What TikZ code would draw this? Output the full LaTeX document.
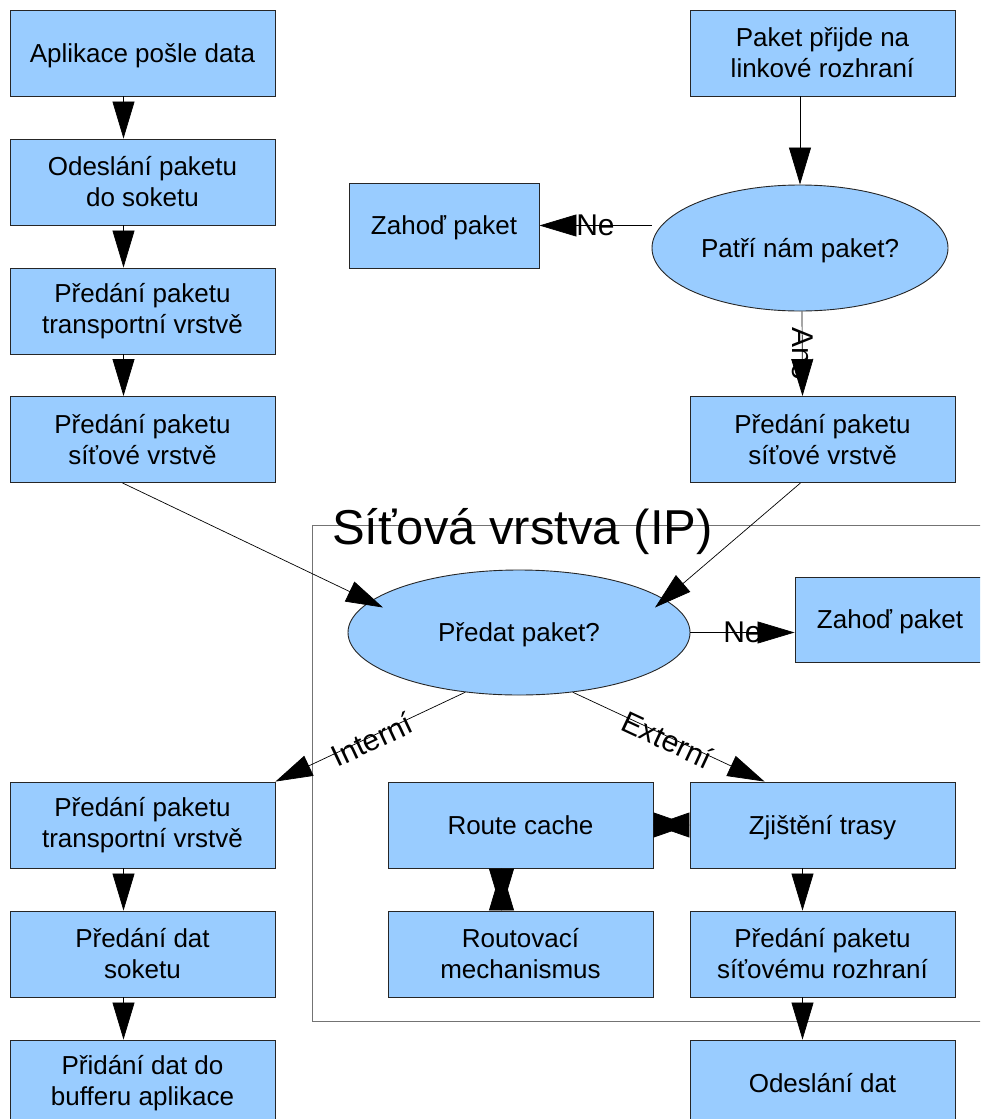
\documentclass[tikz,border=0pt]{standalone}
\usepackage{fontspec}
\setmainfont{Liberation Sans}
\usetikzlibrary{shapes.geometric,arrows.meta,calc,backgrounds}
\definecolor{boxblue}{HTML}{99CCFF}
\begin{document}
\begin{tikzpicture}[x=1pt,y=-1pt,
  box/.style={rectangle,fill=boxblue,draw=black!85,line width=0.9pt,minimum width=265pt,minimum height=86pt,align=center,inner sep=0pt,font=\fontsize{26}{31}\selectfont},
  one/.style={text height=23.5pt,text depth=5.5pt},
  dropbox/.style={box,one,minimum width=190pt,minimum height=85pt},
  oval/.style={ellipse,one,fill=boxblue,draw=black!85,line width=0.9pt,inner sep=0pt,align=center,font=\fontsize{26}{31}\selectfont},
  conn/.style={draw=black,line width=0.7pt,-{Triangle[width=22pt,length=37pt]}},
  biconn/.style={draw=black,line width=0.7pt,{Triangle[width=25pt,length=#1]}-{Triangle[width=25pt,length=#1]}},
  lbl/.style={font=\fontsize{30}{34}\selectfont,inner sep=0pt}]
\useasboundingbox (0,0) rectangle (980,1119);
\clip (0,0) rectangle (980,1119);

% frame of the network layer
\draw[black!55,line width=1pt] (312,525) rectangle (1010,1021);
\node[anchor=base west,inner sep=0pt,font=\fontsize{49}{52}\selectfont] (title) at (332,544) {Síťová vrstva (IP)};

% left column
\node[box,one] (l1) at (142.5,53) {Aplikace pošle data};
\node[box] (l2) at (142.5,182) {Odeslání paketu\\ do soketu};
\node[box] (l3) at (142.5,311) {Předání paketu\\transportní vrstvě};
\node[box] (l4) at (142.5,439.5) {Předání paketu\\síťové vrstvě};
\node[box] (l5) at (142.5,825) {Předání paketu\\transportní vrstvě};
\node[box] (l6) at (142.5,954) {Předání dat\\soketu};
\node[box] (l7) at (142.5,1083) {Přidání dat do\\bufferu aplikace};

% right column
\node[box] (pp) at (822.5,53) {Paket přijde na\\linkové rozhraní};
\node[oval,minimum width=296pt,minimum height=126pt] (e1) at (800,248) {Patří nám paket?};
\node[dropbox] (z1) at (444,225.5) {Zahoď paket};
\node[box] (pv2) at (822.5,439.5) {Předání paketu\\síťové vrstvě};
\node[oval,minimum width=342pt,minimum height=125pt] (e2) at (519,632.5) {Předat paket?};
\node[dropbox] (z2) at (890,619.5) {Zahoď paket};
\node[box,one] (rc) at (520.5,825) {Route cache};
\node[box,one] (zt) at (822.5,825) {Zjištění trasy};
\node[box] (rm) at (520.5,954) {Routovací\\mechanismus};
\node[box] (ps) at (822.5,954) {Předání paketu\\síťovému rozhraní};
\node[box,one] (od) at (822.5,1083) {Odeslání dat};

% connectors
\begin{scope}[on background layer]
\draw[conn] (e1.west |- z1.east) -- (z1.east) node[midway,lbl] {Ne};
\end{scope}
\draw[conn] ($(l1.south)+(-19,0)$) -- ($(l2.north)+(-19,0)$);
\draw[conn] ($(l2.south)+(-19,0)$) -- ($(l3.north)+(-19,0)$);
\draw[conn] ($(l3.south)+(-19,0)$) -- ($(l4.north)+(-19,0)$);
\draw[conn] ($(l5.south)+(-19,0)$) -- ($(l6.north)+(-19,0)$);
\draw[conn] ($(l6.south)+(-19,0)$) -- ($(l7.north)+(-19,0)$);
\draw[conn] (e1.north |- pp.south) -- (e1.north);
\draw[conn] ($(e1.south)+(2,0)$) -- ($(pv2.north)+(-20,0)$) node[midway,lbl,rotate=-90] {Ano};
\draw[conn] ($(l4.south)+(-20,0)$) -- ($(e2.center)+(-136,-25)$);
\draw[conn] ($(pv2.south)+(-22,0)$) -- ($(e2.center)+(136,-25)$);
\draw[conn] (e2.east) -- (e2.east -| z2.west) node[midway,lbl] {Ne};
\draw[conn] (e2.228) -- (l5.north east) node[midway,lbl,sloped,yshift=-3pt] {Interní};
\draw[conn] (e2.-48) -- ($(zt.north west)+(75,0)$) node[midway,lbl,sloped,yshift=-3pt] {Externí};
\draw[biconn=36pt] (rc.east) -- (zt.west);
\draw[biconn=42pt] ($(rc.south)+(-19,0)$) -- ($(rm.north)+(-19,0)$);
\draw[conn] ($(zt.south)+(-20,0)$) -- ($(ps.north)+(-20,0)$);
\draw[conn] ($(ps.south)+(-20,0)$) -- ($(od.north)+(-20,0)$);
\end{tikzpicture}
\end{document}
